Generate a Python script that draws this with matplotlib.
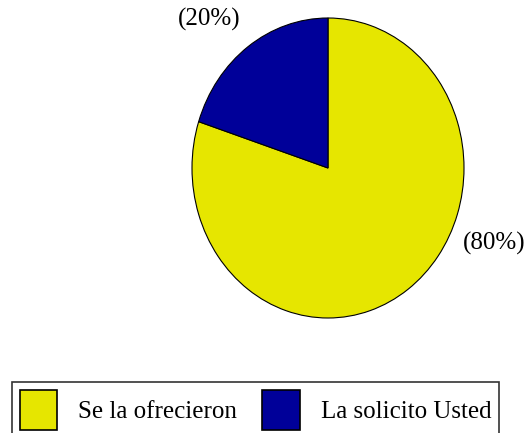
import matplotlib.pyplot as plt
from matplotlib.patches import Patch

categories = ["Se la ofrecieron", "La solicito Usted"]
values = [80, 20]
colors = ["#E6E600", "#000099"]
label_pos = [(1.22, -0.50), (-0.87, 0.99)]

plt.rcParams['font.family'] = ['Liberation Serif', 'DejaVu Serif']

fig = plt.figure(figsize=(5.3, 4.33), dpi=100)
ax = fig.add_axes([192/530, (433-318)/433, 272/530, 300/433])

ax.pie(values, colors=colors, startangle=90, counterclock=False,
       wedgeprops={'edgecolor': 'black', 'linewidth': 0.8})
ax.set_aspect('auto')
ax.set_xlim(-1, 1)
ax.set_ylim(-1, 1)

for v, (x, y) in zip(values, label_pos):
    ax.text(x, y, "(%d%%)" % v, fontsize=18, ha='center', va='center', clip_on=False)

handles = [Patch(facecolor=c, edgecolor='black', linewidth=1.2) for c in colors]
leg = fig.legend(handles, categories, loc='upper left',
                 bbox_to_anchor=(12/530, 1 - 382/433),
                 ncol=2, fontsize=18, frameon=True, fancybox=False,
                 edgecolor='black', handlelength=1.5, handleheight=2.1,
                 handletextpad=0.85, columnspacing=1.0, borderpad=0.3,
                 borderaxespad=0)
leg.get_frame().set_linewidth(1.2)

fig.savefig("out.png", dpi=100)
